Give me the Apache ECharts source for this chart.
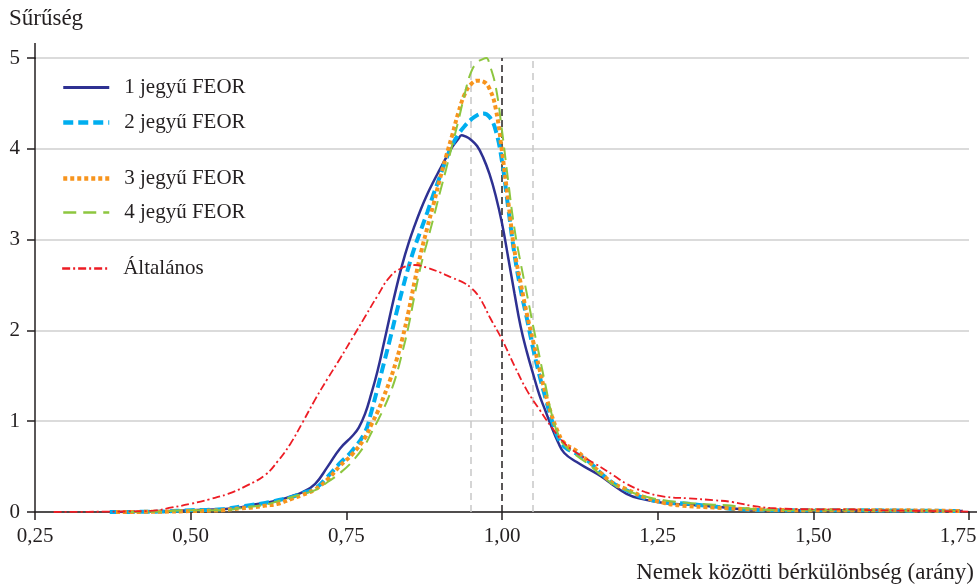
<!DOCTYPE html>
<html><head><meta charset="utf-8">
<script src="https://cdn.jsdelivr.net/npm/echarts@6/dist/echarts.min.js"></script>
<style>html,body{margin:0;padding:0;background:#fff}#c{width:980px;height:586px}</style>
</head><body><div id="c"></div>
<script>
const seriesNames = ['1 jegyű FEOR', '2 jegyű FEOR', '3 jegyű FEOR', '4 jegyű FEOR', 'Általános'];

const feor1X = [0.38,0.45,0.50,0.55,0.58,0.60,0.62,0.64,0.66,0.68,0.70,0.72,0.74,0.76,0.77,0.78,0.79,0.80,0.81,0.82,0.83,0.84,0.85,0.86,0.87,0.88,0.89,0.90,0.91,0.92,0.93,0.935,0.94,0.95,0.96,0.97,0.98,0.99,1.00,1.01,1.02,1.03,1.04,1.05,1.06,1.07,1.08,1.09,1.10,1.12,1.14,1.16,1.18,1.20,1.22,1.26,1.30,1.34,1.39,1.45,1.55,1.65,1.74];
const feor1Y = [0,0.005,0.02,0.03,0.05,0.08,0.10,0.13,0.17,0.22,0.31,0.50,0.70,0.84,0.93,1.08,1.30,1.55,1.85,2.16,2.46,2.73,2.96,3.16,3.34,3.50,3.64,3.77,3.90,4.02,4.11,4.15,4.14,4.10,4.03,3.90,3.72,3.48,3.18,2.80,2.41,2.04,1.76,1.52,1.29,1.11,0.93,0.77,0.65,0.55,0.47,0.39,0.29,0.20,0.15,0.10,0.08,0.06,0.03,0.02,0.02,0.015,0.01];

const feor2X = [0.37,0.45,0.50,0.55,0.58,0.60,0.62,0.64,0.66,0.68,0.70,0.72,0.74,0.76,0.78,0.79,0.80,0.81,0.82,0.83,0.84,0.85,0.86,0.87,0.88,0.89,0.90,0.91,0.92,0.93,0.94,0.95,0.96,0.97,0.98,0.99,1.00,1.01,1.02,1.03,1.04,1.05,1.06,1.07,1.08,1.09,1.10,1.12,1.14,1.16,1.18,1.20,1.23,1.26,1.30,1.34,1.38,1.45,1.55,1.65,1.74];
const feor2Y = [0,0.005,0.02,0.03,0.06,0.08,0.10,0.13,0.16,0.21,0.26,0.39,0.54,0.68,0.88,1.10,1.36,1.63,1.90,2.18,2.45,2.70,2.92,3.11,3.30,3.50,3.69,3.88,4.04,4.16,4.25,4.32,4.37,4.39,4.35,4.20,3.86,3.35,2.84,2.45,2.13,1.80,1.51,1.25,1.01,0.82,0.72,0.64,0.55,0.42,0.31,0.24,0.15,0.11,0.09,0.06,0.03,0.02,0.02,0.015,0.01];

const feor3X = [0.38,0.45,0.50,0.55,0.58,0.60,0.62,0.64,0.66,0.68,0.70,0.72,0.74,0.76,0.78,0.79,0.80,0.81,0.82,0.83,0.84,0.85,0.86,0.87,0.88,0.89,0.90,0.91,0.92,0.93,0.94,0.95,0.96,0.97,0.98,0.99,1.00,1.01,1.02,1.03,1.04,1.05,1.06,1.07,1.08,1.09,1.10,1.12,1.14,1.16,1.18,1.20,1.23,1.26,1.29,1.34,1.40,1.50,1.60,1.74];
const feor3Y = [0,0.003,0.01,0.02,0.04,0.05,0.07,0.09,0.14,0.19,0.25,0.36,0.51,0.64,0.82,0.96,1.10,1.27,1.45,1.66,1.91,2.21,2.55,2.86,3.13,3.39,3.66,3.91,4.15,4.40,4.60,4.71,4.75,4.74,4.66,4.44,3.97,3.42,2.88,2.52,2.18,1.88,1.58,1.30,1.06,0.88,0.76,0.67,0.55,0.42,0.31,0.25,0.16,0.10,0.07,0.05,0.03,0.02,0.02,0.01];

const feor4X = [0.40,0.45,0.50,0.55,0.58,0.60,0.62,0.64,0.66,0.68,0.70,0.72,0.74,0.76,0.78,0.79,0.80,0.81,0.82,0.83,0.84,0.85,0.86,0.87,0.88,0.89,0.90,0.91,0.92,0.93,0.94,0.95,0.96,0.97,0.975,0.98,0.99,1.00,1.01,1.02,1.03,1.04,1.05,1.06,1.07,1.08,1.09,1.10,1.12,1.14,1.16,1.18,1.20,1.23,1.26,1.30,1.34,1.37,1.39,1.45,1.55,1.65,1.74];
const feor4Y = [0,0.005,0.02,0.02,0.04,0.06,0.08,0.12,0.16,0.20,0.24,0.33,0.43,0.56,0.74,0.87,1.00,1.14,1.30,1.50,1.76,2.05,2.40,2.72,2.98,3.24,3.51,3.77,4.04,4.31,4.60,4.84,4.95,4.99,5.0,4.93,4.68,4.20,3.64,3.12,2.74,2.40,2.05,1.72,1.39,1.07,0.86,0.74,0.62,0.52,0.40,0.30,0.24,0.17,0.13,0.10,0.08,0.07,0.04,0.02,0.02,0.015,0.01];

const generalX = [0.28,0.35,0.40,0.44,0.47,0.50,0.53,0.56,0.59,0.62,0.64,0.66,0.68,0.70,0.72,0.74,0.76,0.78,0.80,0.82,0.84,0.86,0.88,0.90,0.92,0.94,0.95,0.96,0.97,0.98,1.00,1.02,1.04,1.06,1.08,1.10,1.12,1.15,1.18,1.20,1.23,1.26,1.30,1.34,1.37,1.40,1.43,1.50,1.55,1.60,1.70,1.75];
const generalY = [0,0.003,0.006,0.015,0.05,0.09,0.14,0.20,0.29,0.41,0.56,0.75,0.99,1.24,1.47,1.69,1.92,2.15,2.38,2.59,2.69,2.72,2.69,2.64,2.58,2.52,2.47,2.40,2.29,2.15,1.90,1.61,1.34,1.13,0.93,0.76,0.65,0.53,0.40,0.31,0.22,0.17,0.15,0.13,0.11,0.07,0.045,0.03,0.03,0.02,0.01,0.005];

const xTickValues = [0.25, 0.50, 0.75, 1.00, 1.25, 1.50, 1.75];
const xTickLabels = ['0,25', '0,50', '0,75', '1,00', '1,25', '1,50', '1,75'];
const yTickLabels = ['0', '1', '2', '3', '4', '5'];
const refLinesX = [0.95, 1.00, 1.05];
const yTitle = 'Sűrűség';
const xTitle = 'Nemek közötti bérkülönbség (arány)';

const zip = (xs, ys) => xs.map((x, i) => [x, ys[i]]);
const FONT = 'Liberation Serif';
const TXT = '#231f20';

const styles = [
  {color: '#2e3192', width: 2.5, type: 'solid'},
  {color: '#00aeef', width: 4, type: [10, 5]},
  {color: '#f7941d', width: 4, type: [4, 3]},
  {color: '#8dc63f', width: 2, type: [13, 7]},
  {color: '#ed1c24', width: 1.8, type: [8, 3, 2, 3]}
];

const chart = echarts.init(document.getElementById('c'), null, {renderer: 'canvas'});

function lineSeries(i, xs, ys, z) {
  const s = styles[i];
  return {
    name: seriesNames[i], type: 'line', data: zip(xs, ys), showSymbol: false, symbol: 'none',
    smooth: 0.45, z: z, silent: true,
    lineStyle: {color: s.color, width: s.width, type: s.type, cap: 'butt'},
    itemStyle: {color: s.color}
  };
}
function legendItem(i) {
  const s = styles[i];
  return {name: seriesNames[i], lineStyle: {color: s.color, width: s.width + 0.5, type: s.type, cap: 'butt'}};
}

const legendCommon = {
  orient: 'vertical', left: 61, padding: 0, itemWidth: 46, itemHeight: 18,
  itemStyle: {opacity: 0},
  textStyle: {fontFamily: FONT, fontSize: 21, color: TXT, padding: [0, 0, 0, 10]}
};

chart.setOption({
  animation: false,
  backgroundColor: '#fff',
  title: [{text: yTitle, left: 9, top: 7, padding: 0,
           textStyle: {fontFamily: FONT, fontSize: 23, fontWeight: 'normal', color: TXT}}],
  grid: {left: 35, right: 11, top: 58, bottom: 74, containLabel: false, outerBoundsMode: 'none'},
  legend: [
    Object.assign({}, legendCommon, {data: [legendItem(0), legendItem(1)], top: 77, itemGap: 14}),
    Object.assign({}, legendCommon, {data: [legendItem(2), legendItem(3)], top: 168, itemGap: 13}),
    Object.assign({}, legendCommon, {data: [legendItem(4)], top: 258})
  ],
  xAxis: {
    type: 'value', min: xTickValues[0], max: xTickValues[xTickValues.length - 1], interval: 0.25,
    name: xTitle, nameLocation: 'end', nameGap: 5,
    nameTextStyle: {fontFamily: FONT, fontSize: 23, color: TXT, align: 'right', verticalAlign: 'top', padding: [49, 0, 0, 0]},
    axisLine: {show: true, lineStyle: {color: TXT, width: 1.5}},
    axisTick: {show: true, length: 8, inside: false, lineStyle: {color: TXT, width: 1.5}},
    splitLine: {show: false},
    axisLabel: {
      margin: 14, fontFamily: FONT, fontSize: 21, color: TXT,
      formatter: function (v) {
        const i = xTickValues.findIndex(t => Math.abs(t - v) < 1e-6);
        if (i < 0) return '';
        if (i === xTickValues.length - 1) return '{last|' + xTickLabels[i] + '}';
        return xTickLabels[i];
      },
      rich: {last: {fontFamily: FONT, fontSize: 21, color: TXT, padding: [0, 22, 0, 0]}}
    }
  },
  yAxis: {
    type: 'value', min: 0, max: 5, interval: 1,
    axisLine: {show: true, lineStyle: {color: TXT, width: 1.5}},
    axisTick: {show: true, length: 8, lineStyle: {color: TXT, width: 1.5}},
    splitLine: {show: true, lineStyle: {color: '#cfcfcf', width: 1.5}},
    axisLabel: {margin: 15, fontFamily: FONT, fontSize: 21, color: TXT,
      formatter: v => yTickLabels[Math.round(v)] || ''}
  },
  graphic: [
    {type: 'line', shape: {x1: 35, y1: 43, x2: 35, y2: 59}, style: {stroke: TXT, lineWidth: 1.5}, z: 10, silent: true},
    {type: 'line', shape: {x1: 968, y1: 512, x2: 977, y2: 512}, style: {stroke: TXT, lineWidth: 1.5}, z: 10, silent: true}
  ],
  series: [
    {
      name: 'ref', type: 'line', data: [], z: 1, silent: true,
      markLine: {
        silent: true, symbol: ['none', 'none'], label: {show: false}, animation: false,
        data: [
          {xAxis: refLinesX[0], lineStyle: {color: '#c8c8c8', width: 1.5, type: [7, 5]}},
          {xAxis: refLinesX[1], lineStyle: {color: '#231f20', width: 1.5, type: [7, 4]}},
          {xAxis: refLinesX[2], lineStyle: {color: '#c8c8c8', width: 1.5, type: [7, 5]}}
        ]
      }
    },
    lineSeries(0, feor1X, feor1Y, 5),
    lineSeries(1, feor2X, feor2Y, 6),
    lineSeries(2, feor3X, feor3Y, 7),
    lineSeries(3, feor4X, feor4Y, 8),
    lineSeries(4, generalX, generalY, 9)
  ]
});
</script>
</body></html>
